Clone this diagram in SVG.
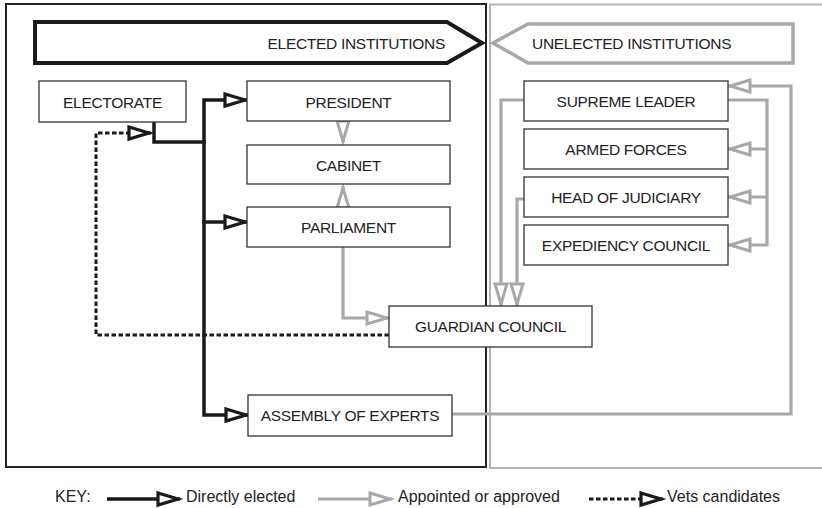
<svg xmlns="http://www.w3.org/2000/svg" width="822" height="508" viewBox="0 0 822 508">
<style>
text{font-family:"Liberation Sans",Arial,sans-serif;fill:#222;}
.lbl{font-size:15.5px;letter-spacing:-0.3px;text-anchor:middle;}
.key{font-size:16px;}
.box{fill:#fff;stroke:#333;stroke-width:1.3;}
.blk{fill:none;stroke:#1a1a1a;stroke-width:3.5;stroke-linejoin:miter;}
.gry{fill:none;stroke:#a8a8a8;stroke-width:3.2;stroke-linejoin:miter;}
.dot{fill:none;stroke:#1a1a1a;stroke-width:3;stroke-dasharray:4.5 2.5;}
</style>
<defs>
<marker id="ab" markerUnits="userSpaceOnUse" markerWidth="30" markerHeight="20" refX="25" refY="10" orient="auto" overflow="visible"><path d="M3,4 L23,10 L3,16 Z" fill="#fff" stroke="#1a1a1a" stroke-width="3.2"/></marker>
<marker id="ag" markerUnits="userSpaceOnUse" markerWidth="30" markerHeight="20" refX="25" refY="10" orient="auto" overflow="visible"><path d="M3,4 L23,10 L3,16 Z" fill="#fff" stroke="#a8a8a8" stroke-width="3"/></marker>
</defs>
<rect width="822" height="508" fill="#fff"/>
<g id="frames">
<rect x="490" y="4.5" width="340" height="463.5" fill="none" stroke="#b3b3b3" stroke-width="2"/>
<rect x="6" y="4" width="480" height="463" fill="none" stroke="#222" stroke-width="2"/>
</g>
<g id="elected-banner">
<path d="M35,22 H447 L482,43 L447,63 H35 Z" fill="#fff" stroke="#1a1a1a" stroke-width="4"/>
<text x="445" y="49" class="lbl" style="text-anchor:end">ELECTED INSTITUTIONS</text>
</g>
<g id="unelected-banner">
<path d="M793,24 H528 L493,43 L528,63 H793 Z" fill="#fff" stroke="#a8a8a8" stroke-width="3.5"/>
<text x="532" y="49" class="lbl" style="text-anchor:start">UNELECTED INSTITUTIONS</text>
</g>
<g id="connectors">
<path class="gry" d="M343,121 V143" marker-end="url(#ag)"/>
<path class="gry" d="M343,207 V186" marker-end="url(#ag)"/>
<path class="gry" d="M343,247 V318 H389" marker-end="url(#ag)"/>
<path class="gry" d="M524,100 H501 V306" marker-end="url(#ag)"/>
<path class="gry" d="M524,199 H517 V306" marker-end="url(#ag)"/>
<path class="gry" d="M728,100 H767 V149 H728" marker-end="url(#ag)"/>
<path class="gry" d="M767,149 V197 H728" marker-end="url(#ag)"/>
<path class="gry" d="M767,197 V245 H728" marker-end="url(#ag)"/>
<path class="gry" d="M452,414 H791 V86 H728" marker-end="url(#ag)"/>
<path class="dot" d="M389,335 H96 V133 H151" marker-end="url(#ab)"/>
<path class="blk" d="M154,122 V142 H204 V100 H247" marker-end="url(#ab)"/>
<path class="blk" d="M204,140 V222 H247" marker-end="url(#ab)"/>
<path class="blk" d="M204,220 V415 H248" marker-end="url(#ab)"/>
</g>
<g id="electorate"><rect class="box" x="39" y="81" width="147" height="41"/><text class="lbl" x="112.5" y="108">ELECTORATE</text></g>
<g id="president"><rect class="box" x="247" y="81" width="203" height="40"/><text class="lbl" x="348.5" y="107.5">PRESIDENT</text></g>
<g id="cabinet"><rect class="box" x="247" y="145" width="203" height="39"/><text class="lbl" x="348.5" y="171">CABINET</text></g>
<g id="parliament"><rect class="box" x="247" y="207" width="203" height="40"/><text class="lbl" x="348.5" y="233">PARLIAMENT</text></g>
<g id="guardian-council"><rect class="box" x="389" y="306" width="203" height="41"/><text class="lbl" x="490.5" y="332">GUARDIAN COUNCIL</text></g>
<g id="assembly-of-experts"><rect class="box" x="248" y="395" width="204" height="41"/><text class="lbl" x="350" y="421">ASSEMBLY OF EXPERTS</text></g>
<g id="supreme-leader"><rect class="box" x="524" y="81" width="204" height="40"/><text class="lbl" x="626" y="107">SUPREME LEADER</text></g>
<g id="armed-forces"><rect class="box" x="524" y="129" width="204" height="40"/><text class="lbl" x="626" y="155">ARMED FORCES</text></g>
<g id="head-of-judiciary"><rect class="box" x="524" y="177" width="204" height="40"/><text class="lbl" x="626" y="203">HEAD OF JUDICIARY</text></g>
<g id="expediency-council"><rect class="box" x="524" y="225" width="204" height="40"/><text class="lbl" x="626" y="251">EXPEDIENCY COUNCIL</text></g>
<g id="key">
<text class="key" x="55" y="502">KEY:</text>
<path class="blk" d="M107,499 H180" marker-end="url(#ab)"/>
<text class="key" x="186" y="502">Directly elected</text>
<path class="gry" d="M318,499 H392" marker-end="url(#ag)"/>
<text class="key" x="398" y="502">Appointed or approved</text>
<path class="dot" d="M589,499 H663" marker-end="url(#ab)"/>
<text class="key" x="667" y="502">Vets candidates</text>
</g>
</svg>
